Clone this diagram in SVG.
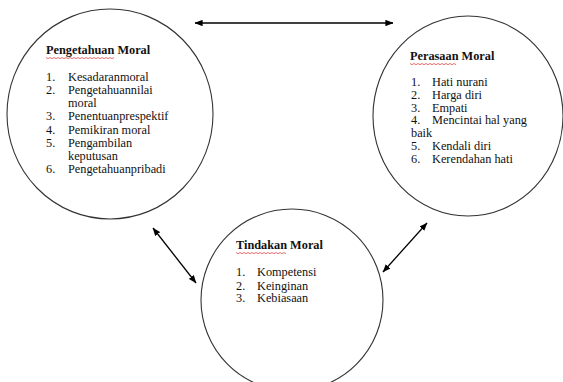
<svg xmlns="http://www.w3.org/2000/svg" width="563" height="382" viewBox="0 0 563 382">
<style>
.node{fill:#fff;stroke:#333;stroke-width:1.1}
text{font-family:"Liberation Serif","Times New Roman",serif;font-size:12.3px;fill:#111}
.t{font-weight:bold}
.sq{fill:none;stroke:#e03030;stroke-width:0.7}
.c{stroke:#000;stroke-width:1.3;fill:none;marker-start:url(#ah);marker-end:url(#ah)}
</style>
<defs>
<marker id="ah" viewBox="0 0 10 8" refX="9.5" refY="4" markerWidth="8" markerHeight="6.4" markerUnits="userSpaceOnUse" orient="auto-start-reverse">
<path d="M0,0 L10,4 L0,8 Z" fill="#000"/>
</marker>
</defs>
<rect width="563" height="382" fill="#fff"/>
<g id="connectors">
<line class="c" x1="195" y1="23" x2="393" y2="23"/>
<line class="c" x1="153" y1="228" x2="196" y2="283"/>
<line class="c" x1="427" y1="223" x2="383" y2="272"/>
</g>
<g id="pengetahuan">
<ellipse class="node" cx="110" cy="114" rx="103" ry="105"/>
<text class="t" x="46" y="54">Pengetahuan Moral</text>
<path class="sq" d="M46,57.5 l2,1.2 l2,-1.2 l2,1.2 l2,-1.2 l2,1.2 l2,-1.2 l2,1.2 l2,-1.2 l2,1.2 l2,-1.2 l2,1.2 l2,-1.2 l2,1.2 l2,-1.2 l2,1.2 l2,-1.2 l2,1.2 l2,-1.2 l2,1.2 l2,-1.2 l2,1.2 l2,-1.2 l2,1.2 l2,-1.2 l2,1.2 l2,-1.2 l2,1.2 l2,-1.2 l2,1.2 l2,-1.2 l2,1.2 l2,-1.2 l2,1.2 l2,-1.2"/>
<text x="46" y="81">1.</text><text x="68" y="81">Kesadaranmoral</text>
<text x="46" y="94">2.</text><text x="68" y="94">Pengetahuannilai</text>
<text x="68" y="107">moral</text>
<text x="46" y="120">3.</text><text x="68" y="120">Penentuanprespektif</text>
<text x="46" y="133.5">4.</text><text x="68" y="133.5">Pemikiran moral</text>
<text x="46" y="146.5">5.</text><text x="68" y="146.5">Pengambilan</text>
<text x="68" y="159.5">keputusan</text>
<text x="46" y="173">6.</text><text x="68" y="173">Pengetahuanpribadi</text>
</g>
<g id="perasaan">
<ellipse class="node" cx="468" cy="116" rx="95" ry="100"/>
<text class="t" x="410" y="60">Perasaan Moral</text>
<path class="sq" d="M410,63.5 l2,1.2 l2,-1.2 l2,1.2 l2,-1.2 l2,1.2 l2,-1.2 l2,1.2 l2,-1.2 l2,1.2 l2,-1.2 l2,1.2 l2,-1.2 l2,1.2 l2,-1.2 l2,1.2 l2,-1.2 l2,1.2 l2,-1.2 l2,1.2 l2,-1.2 l2,1.2 l2,-1.2 l2,1.2"/>
<text x="411" y="86">1.</text><text x="432" y="86">Hati nurani</text>
<text x="411" y="99">2.</text><text x="432" y="99">Harga diri</text>
<text x="411" y="111.5">3.</text><text x="432" y="111.5">Empati</text>
<text x="411" y="124">4.</text><text x="432" y="124">Mencintai hal yang</text>
<text x="411" y="137">baik</text>
<text x="411" y="150">5.</text><text x="432" y="150">Kendali diri</text>
<text x="411" y="163">6.</text><text x="432" y="163">Kerendahan hati</text>
</g>
<g id="tindakan">
<ellipse class="node" cx="292" cy="300" rx="91" ry="91"/>
<text class="t" x="236" y="249">Tindakan Moral</text>
<path class="sq" d="M236,252.5 l2,1.2 l2,-1.2 l2,1.2 l2,-1.2 l2,1.2 l2,-1.2 l2,1.2 l2,-1.2 l2,1.2 l2,-1.2 l2,1.2 l2,-1.2 l2,1.2 l2,-1.2 l2,1.2 l2,-1.2 l2,1.2 l2,-1.2 l2,1.2 l2,-1.2 l2,1.2 l2,-1.2 l2,1.2 l2,-1.2 l2,1.2"/>
<text x="236" y="276">1.</text><text x="257" y="276">Kompetensi</text>
<text x="236" y="289.5">2.</text><text x="257" y="289.5">Keinginan</text>
<text x="236" y="302">3.</text><text x="257" y="302">Kebiasaan</text>
</g>
</svg>
